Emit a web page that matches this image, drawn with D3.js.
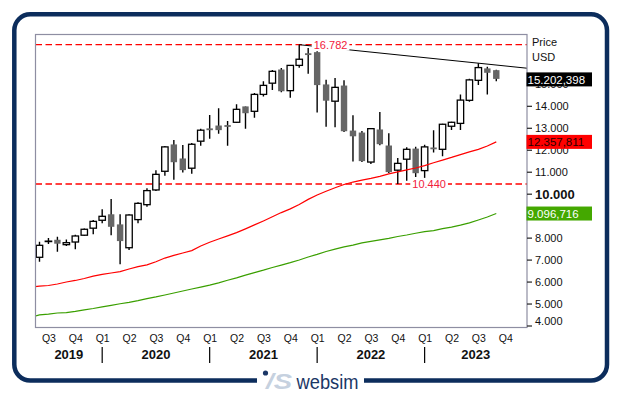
<!DOCTYPE html>
<html>
<head>
<meta charset="utf-8">
<script src="https://cdn.jsdelivr.net/npm/d3@7"></script>
<style>
  html, body { margin: 0; padding: 0; background: #fff; }
  svg { display: block; font-family: Arial, "Liberation Sans", sans-serif; }
</style>
</head>
<body>
<svg id="chart" width="621" height="395"></svg>
<script>
// monthly candles, Jun 2019 .. Sep 2023
const open  = [7105, 7820, 7880, 7680, 7800, 8110, 8430, 8790, 9040, 8580, 7540, 8820, 9500,
  10170, 11020, 12220, 11580, 11160, 12390, 12950, 13080, 13100, 13250, 13950, 13750, 14520,
  15030, 15630, 14690, 15840, 16370, 16420, 14950, 14210, 14900, 12850, 12760, 11440, 12900,
  12170, 11070, 11570, 12030, 11050, 12080, 12020, 13070, 13200, 14250, 15160, 15680, 15600];
const high  = [7815, 7980, 8040, 7920, 8130, 8410, 8800, 9290, 9760, 9060, 9060, 9610, 10250,
  11070, 12170, 12440, 12220, 12310, 12960, 13580, 13890, 13310, 14070, 13970, 14580, 15120,
  15630, 15720, 15860, 16782, 16630, 16480, 15190, 15270, 15160, 13570, 12850, 12990, 13720,
  12750, 11620, 12110, 12140, 12230, 12890, 13180, 13270, 14510, 15230, 15940, 15780, 15640];
const low   = [6905, 7710, 7360, 7620, 7470, 8080, 8150, 8650, 8110, 6790, 7440, 8650, 9410,
  10120, 10820, 10640, 10960, 10910, 12180, 12500, 12730, 12180, 13220, 12960, 13460, 14420,
  14720, 14620, 14370, 15730, 15460, 13690, 13050, 13020, 12810, 11470, 11440, 11350, 12210,
  10940, 10440, 10590, 10760, 10710, 11870, 11700, 12900, 12900, 14190, 14950, 14510, 15120];
const close = [7650, 7840, 7700, 7770, 8075, 8380, 8740, 8970, 8470, 7820, 9030, 9560, 10140,
  10880, 12130, 11410, 11050, 12250, 12890, 12920, 12870, 13080, 13840, 13640, 14520, 14930,
  15570, 14640, 15840, 16120, 16350, 14920, 14210, 14840, 12820, 12590, 11460, 12960, 12230,
  10960, 11380, 12020, 10910, 12130, 12050, 13160, 13250, 14260, 15180, 15740, 15480, 15202.398];

// moving averages, May 2019 .. Sep 2023
const maRed = [5740, 5790, 5820, 5890, 5980, 6050, 6140, 6245, 6330, 6390, 6450, 6570, 6680,
  6760, 6900, 7070, 7190, 7300, 7410, 7620, 7790, 7940, 8080, 8230, 8400, 8580, 8760, 8950,
  9140, 9310, 9510, 9740, 9940, 10110, 10270, 10420, 10530, 10620, 10700, 10790, 10900, 10990,
  11080, 11170, 11280, 11410, 11530, 11650, 11780, 11900, 12020, 12170, 12357.811];
const maGreen = [4370, 4480, 4520, 4570, 4590, 4640, 4710, 4775, 4850, 4920, 4990, 5050, 5130,
  5220, 5300, 5390, 5480, 5570, 5660, 5750, 5840, 5940, 6060, 6170, 6290, 6410, 6520, 6640,
  6750, 6860, 6980, 7120, 7240, 7370, 7480, 7580, 7660, 7760, 7830, 7900, 7970, 8050, 8120,
  8200, 8270, 8320, 8410, 8480, 8570, 8670, 8800, 8940, 9096.716];

// 9.000 sits under the green value box, so it is left out
const yTicks = [4000, 5000, 6000, 7000, 8000, 10000, 11000, 12000, 13000, 14000, 15000];
const years = [2019, 2020, 2021, 2022, 2023];
const firstMonth = new Date(2019, 5, 1);
const highIdx = 29, secondHighIdx = 49, lowIdx = 40;   // Nov 2021, Jul 2023, Oct 2022

const de = d3.formatLocale({ decimal: ",", thousands: ".", grouping: [3], currency: ["", ""] });
const fmt0 = de.format(",.0f");
const fmt3 = de.format(",.3f");

const svg = d3.select("#chart");
const L = 35.5, R = 527, T = 34.5, B = 327.5;

// month index scale (0 = Jun 2019)
const x = d3.scaleLinear().domain([-0.446, 54.43]).range([L, R]);
const y = d3.scaleLinear().domain([3900, 17255]).range([327.7, 34.3]);

const monthOf = i => d3.timeMonth.offset(firstMonth, i);

// outer frame
svg.append("rect")
  .attr("x", 14.3).attr("y", 14.3).attr("width", 592.7).attr("height", 366.2)
  .attr("rx", 16).attr("fill", "none")
  .attr("stroke", "#0c2d5c").attr("stroke-width", 4.5);
svg.append("rect").attr("x", 257).attr("y", 374).attr("width", 107).attr("height", 14).attr("fill", "#fff");

// logo
const logo = svg.append("g");
logo.append("circle").attr("cx", 265.5).attr("cy", 373).attr("r", 2.6).attr("fill", "#1b3766");
logo.append("text").attr("x", 266).attr("y", 388.5)
  .attr("font-size", 22).attr("font-weight", "bold").attr("font-style", "italic")
  .attr("fill", "#c6d1df").attr("textLength", 26).attr("lengthAdjust", "spacingAndGlyphs")
  .text("/S");
logo.append("text").attr("x", 296.5).attr("y", 389.3)
  .attr("font-size", 20).attr("fill", "#1b3766")
  .attr("textLength", 62).attr("lengthAdjust", "spacingAndGlyphs")
  .text("websim");

svg.append("clipPath").attr("id", "plotClip")
  .append("rect").attr("x", L).attr("y", T).attr("width", R - L).attr("height", B - T);

const plot = svg.append("g").attr("clip-path", "url(#plotClip)");

// high / low reference lines
[16782, 10440].forEach(v => {
  plot.append("line")
    .attr("x1", L).attr("x2", R).attr("y1", y(v)).attr("y2", y(v))
    .attr("stroke", "#ff0000").attr("stroke-width", 1.3).attr("stroke-dasharray", "6.5,3.5");
});

// candles
const idx = d3.range(open.length);
const candles = plot.selectAll("g.candle").data(idx).join("g").attr("class", "candle");
candles.append("line")
  .attr("x1", i => x(i)).attr("x2", i => x(i))
  .attr("y1", i => y(high[i])).attr("y2", i => y(low[i]))
  .attr("stroke", "#000").attr("stroke-width", 1.4);
candles.append("rect")
  .attr("x", i => x(i) - 3.2).attr("width", 6.4)
  .attr("y", i => close[i] >= open[i] ? y(Math.max(open[i], close[i])) : y(Math.max(open[i], close[i])) - 0.5)
  .attr("height", i => {
    const h = Math.abs(y(open[i]) - y(close[i]));
    return close[i] >= open[i] ? Math.max(h, 0.4) : Math.max(h, 1.8);
  })
  .attr("fill", i => close[i] >= open[i] ? "#fff" : "#666")
  .attr("stroke", i => close[i] >= open[i] ? "#000" : "none")
  .attr("stroke-width", 1.3);

// moving averages (start one month before the first candle)
const maLine = d3.line().x((d, i) => x(i - 1)).y(d => y(d));
plot.append("path").attr("d", maLine(maGreen)).attr("fill", "none")
  .attr("stroke", "#3a9f00").attr("stroke-width", 1.2);
plot.append("path").attr("d", maLine(maRed)).attr("fill", "none")
  .attr("stroke", "#ff0000").attr("stroke-width", 1.2);

// resistance trend line through the two highs
const slope = (high[secondHighIdx] - high[highIdx]) / (secondHighIdx - highIdx);
const xEnd = x.domain()[1];
plot.append("line")
  .attr("x1", x(highIdx)).attr("y1", y(high[highIdx]))
  .attr("x2", x(xEnd)).attr("y2", y(high[highIdx] + slope * (xEnd - highIdx)))
  .attr("stroke", "#000").attr("stroke-width", 1);

// labels on the reference lines
[[highIdx, 16782], [lowIdx, 10440]].forEach(([i, v]) => {
  const g = svg.append("g");
  const t = g.append("text").attr("x", x(i + 3.5)).attr("y", y(v)).attr("dy", "0.35em")
    .attr("text-anchor", "middle").attr("font-size", 11).attr("fill", "#f2203c").text(fmt0(v));
  const bb = t.node().getBBox();
  g.insert("rect", "text").attr("x", bb.x - 2).attr("y", bb.y).attr("width", bb.width + 4)
    .attr("height", bb.height).attr("fill", "#fff");
});

// plot border
svg.append("rect").attr("x", L).attr("y", T).attr("width", R - L).attr("height", B - T)
  .attr("fill", "none").attr("stroke", "#8e8ea2").attr("stroke-width", 1.2);

// right price axis
const yAxis = svg.append("g").attr("transform", `translate(${R},0)`)
  .call(d3.axisRight(y).tickValues(yTicks).tickSize(5).tickPadding(3).tickFormat(fmt0));
yAxis.select(".domain").remove();
yAxis.selectAll(".tick line").attr("stroke", "#222").attr("stroke-width", 1.2);
yAxis.selectAll(".tick text")
  .attr("font-family", "Arial, 'Liberation Sans', sans-serif")
  .attr("fill", "#111")
  .attr("font-size", d => d === 10000 ? 13 : 11)
  .attr("font-weight", d => d === 10000 ? "bold" : "normal")
  .attr("dy", d => d === 4000 ? "-0.1em" : "0.34em");

svg.append("text").attr("x", 532).attr("y", 45.5).attr("font-size", 11).attr("fill", "#111").text("Price");
svg.append("text").attr("x", 532).attr("y", 60.5).attr("font-size", 11).attr("fill", "#111").text("USD");

// last value boxes
[[close[close.length - 1], "#000", "#fff"],
 [maRed[maRed.length - 1], "#ff0000", "#2a0000"],
 [maGreen[maGreen.length - 1], "#44a800", "#fff"]].forEach(([v, bg, fg]) => {
  svg.append("rect").attr("x", 526.5).attr("y", y(v) - 7).attr("width", 65.5).attr("height", 14).attr("fill", bg);
  svg.append("text").attr("x", 527.5).attr("y", y(v)).attr("dy", "0.36em")
    .attr("font-size", 11.5).attr("fill", fg).text(fmt3(v));
});

// time axis: quarters
const quarterIdx = d3.range(1, 53, 3);
const xAxis = svg.append("g").attr("transform", `translate(0,${B})`)
  .call(d3.axisBottom(x).tickValues(quarterIdx).tickSize(0).tickPadding(7)
    .tickFormat(i => "Q" + (Math.floor(monthOf(i).getMonth() / 3) + 1)));
xAxis.select(".domain").remove();
xAxis.selectAll(".tick text")
  .attr("font-family", "Arial, 'Liberation Sans', sans-serif")
  .attr("font-size", 10.5).attr("fill", "#111");

// years
years.forEach(yr => {
  const jan = (yr - 2019) * 12 - 5;
  const x0 = Math.max(L, x(jan)), x1 = Math.min(R, x(jan + 12));
  svg.append("text").attr("x", (x0 + x1) / 2).attr("y", 358.5)
    .attr("text-anchor", "middle").attr("font-size", 13).attr("font-weight", "bold")
    .attr("fill", "#111").text(yr);
  if (x(jan) > L) {
    svg.append("line").attr("x1", x(jan)).attr("x2", x(jan)).attr("y1", 347).attr("y2", 363)
      .attr("stroke", "#000").attr("stroke-width", 1.2);
  }
});
</script>
</body>
</html>
